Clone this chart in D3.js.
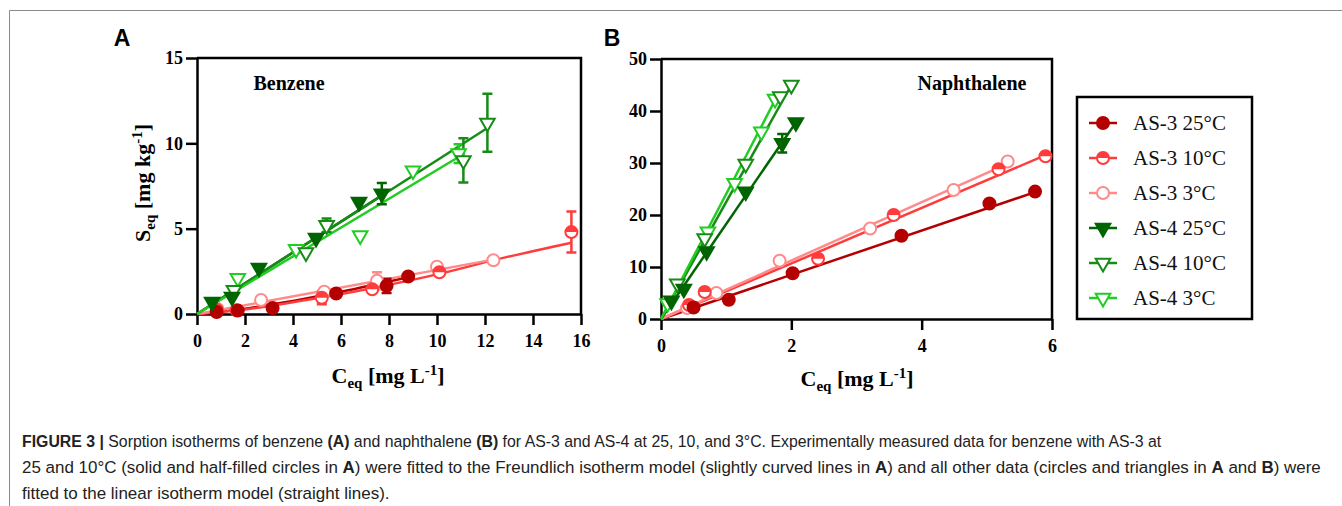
<!DOCTYPE html>
<html>
<head>
<meta charset="utf-8">
<script src="https://cdn.jsdelivr.net/npm/d3@7"></script>
<style>
  body { margin: 0; background: #fff; }
</style>
</head>
<body>
<div id="chart"></div>
<script>
// Legend labels / series order
const seriesNames = ["AS-3 25°C", "AS-3 10°C", "AS-3 3°C", "AS-4 25°C", "AS-4 10°C", "AS-4 3°C"];

// Tick values
const xTicksA = [0, 2, 4, 6, 8, 10, 12, 14, 16];
const yTicksA = [0, 5, 10, 15];
const xTicksB = [0, 2, 4, 6];
const yTicksB = [0, 10, 20, 30, 40, 50];

// Benzene (A) measured points: [Ceq, Seq, error]
const benzAS3_25 = [[0.82, 0.12], [1.7, 0.2], [3.15, 0.35], [5.8, 1.2], [7.9, 1.65, 0.42], [8.8, 2.2]];
const benzAS3_10 = [[0.82, 0.25], [1.65, 0.22], [5.2, 0.95, 0.38], [7.3, 1.45], [10.1, 2.45], [15.6, 4.8, 1.2]];
const benzAS3_3  = [[0.85, 0.3], [2.67, 0.82], [5.3, 1.3], [7.5, 1.95, 0.5], [10.0, 2.77], [12.35, 3.15]];
const benzAS4_25 = [[0.63, 0.7], [1.46, 1.0], [2.58, 2.7], [4.96, 4.45], [6.75, 6.56], [7.7, 7.05, 0.62]];
const benzAS4_10 = [[1.54, 1.4], [4.54, 3.6], [5.4, 5.2, 0.4], [11.1, 9.0, 1.3], [12.1, 11.2, 1.7]];
const benzAS4_3  = [[1.7, 2.1], [4.13, 3.8], [6.8, 4.6], [9.0, 8.4], [10.9, 9.4, 0.55]];

// Benzene fitted lines
const fitBenzAS3_25 = [[0, 0], [2, 0.31], [4, 0.77], [6, 1.3], [8.8, 2.15]];
const fitBenzAS3_10 = [[0, 0], [2, 0.27], [5, 0.92], [7.5, 1.57], [10, 2.32], [12.5, 3.2], [15.6, 4.18]];
const fitBenzAS3_3  = [[0, 0], [12.4, 3.2]];
const fitBenzAS4_25 = [[0, 0], [7.7, 6.95]];
const fitBenzAS4_10 = [[0, 0], [12.1, 10.9]];
const fitBenzAS4_3  = [[0, 0], [10.9, 9.2]];

// Naphthalene (B) measured points
const napAS3_25 = [[0.5, 2.2], [1.04, 3.7], [2.02, 8.8], [3.69, 16.0], [5.04, 22.2], [5.74, 24.5]];
const napAS3_10 = [[0.43, 2.7], [0.67, 5.2], [2.41, 11.6], [3.57, 20.0], [5.18, 28.8], [5.9, 31.3]];
const napAS3_3  = [[0.4, 2.1], [0.85, 5.0], [1.82, 11.2], [3.21, 17.4], [4.49, 24.8], [5.32, 30.3]];
const napAS4_25 = [[0.16, 3.5], [0.35, 5.8], [0.7, 13], [1.3, 24.5], [1.86, 33.8, 1.8], [2.07, 37.8]];
const napAS4_10 = [[0.25, 6.8], [0.67, 15.5], [1.3, 29.8], [1.83, 42.8], [2.0, 45.0]];
const napAS4_3  = [[0.1, 3.0], [0.72, 16.8], [1.13, 26.1], [1.54, 36.0], [1.75, 42.3]];

// Naphthalene fitted lines
const fitNapAS3_25 = [[0, 0], [5.74, 24.4]];
const fitNapAS3_10 = [[0, 0], [5.9, 31.5]];
const fitNapAS3_3  = [[0, 0], [5.32, 29.9]];
const fitNapAS4_25 = [[0, 0], [2.07, 37.8]];
const fitNapAS4_10 = [[0, 0], [2.0, 45.0]];
const fitNapAS4_3  = [[0, 0], [1.78, 42.8]];

// styling per series
const colors  = ["#b40000", "#ff3c3c", "#ff8a8a", "#006400", "#168c16", "#22cc22"];
const markers = ["circleFill", "circleHalf", "circleOpen", "triFill", "triOpen", "triOpen"];

const W = 1342, H = 506;
const serif = "'Liberation Serif', 'Times New Roman', serif";
const sans  = "'Liberation Sans', Arial, sans-serif";

const svg = d3.select("#chart").append("svg")
  .attr("width", W).attr("height", H)
  .style("display", "block");

// thin figure frame (left and top edges)
svg.append("path")
  .attr("d", `M9.5,${H} L9.5,10.5 L${W},10.5`)
  .attr("fill", "none").attr("stroke", "#8a8a8a").attr("stroke-width", 1);

// scales
const xA = d3.scaleLinear().domain([0, 16]).range([197, 581]);
const yA = d3.scaleLinear().domain([0, 15]).range([314, 58]);
const xB = d3.scaleLinear().domain([0, 6]).range([661, 1052]);
const yB = d3.scaleLinear().domain([0, 50]).range([319, 59]);

// marker drawing
function drawMarker(g, type, color, cx, cy) {
  const r = 6;
  if (type.startsWith("circle")) {
    g.append("circle")
      .attr("cx", cx).attr("cy", cy).attr("r", r)
      .attr("fill", type === "circleFill" ? color : "#fff")
      .attr("stroke", color).attr("stroke-width", 2);
    if (type === "circleHalf") {
      g.append("path")
        .attr("d", `M${cx - r},${cy} A${r},${r} 0 0 1 ${cx + r},${cy} Z`)
        .attr("fill", color);
    }
  } else {
    g.append("path")
      .attr("d", d3.symbol(d3.symbolTriangle, 92)())
      .attr("transform", `translate(${cx},${cy}) rotate(180)`)
      .attr("fill", type === "triFill" ? color : "#fff")
      .attr("stroke", color).attr("stroke-width", 2)
      .attr("stroke-linejoin", "miter");
  }
}

function drawPanel(x, y, xTicks, yTicks, pts, fits) {
  const g = svg.append("g");
  const x0 = x.range()[0], x1 = x.range()[1];
  const y0 = y.range()[0], y1 = y.range()[1];

  // top and right frame lines
  g.append("path")
    .attr("d", `M${x0},${y1} L${x1},${y1} L${x1},${y0}`)
    .attr("fill", "none").attr("stroke", "#000").attr("stroke-width", 2.5);

  const fmt = d3.format("d");
  const ax = g.append("g")
    .attr("transform", `translate(0,${y0})`)
    .call(d3.axisBottom(x).tickValues(xTicks).tickFormat(fmt).tickSize(11).tickSizeOuter(0).tickPadding(9));
  const ay = g.append("g")
    .attr("transform", `translate(${x0},0)`)
    .call(d3.axisLeft(y).tickValues(yTicks).tickFormat(fmt).tickSize(11).tickSizeOuter(0).tickPadding(3));
  [ax, ay].forEach(a => {
    a.selectAll("path, line").attr("stroke", "#000").attr("stroke-width", 2.5);
    a.selectAll("text")
      .attr("fill", "#000")
      .style("font-family", serif).style("font-weight", "bold").style("font-size", "18px");
  });

  const line = d3.line().x(d => x(d[0])).y(d => y(d[1])).curve(d3.curveMonotoneX);

  // fitted lines
  fits.forEach((f, i) => {
    g.append("path").datum(f)
      .attr("d", line)
      .attr("fill", "none")
      .attr("stroke", colors[i])
      .attr("stroke-width", 2.5);
  });

  // error bars, then markers (draw darker series last)
  const order = [2, 1, 0, 5, 4, 3];
  order.forEach(i => {
    pts[i].filter(d => d[2]).forEach(d => {
      const cx = x(d[0]);
      const ya = y(d[1] + d[2]), yb = y(d[1] - d[2]);
      g.append("path")
        .attr("d", `M${cx},${ya} L${cx},${yb} M${cx - 5},${ya} L${cx + 5},${ya} M${cx - 5},${yb} L${cx + 5},${yb}`)
        .attr("fill", "none").attr("stroke", colors[i]).attr("stroke-width", 2.5);
    });
  });
  order.forEach(i => {
    pts[i].forEach(d => drawMarker(g, markers[i], colors[i], x(d[0]), y(d[1])));
  });
  return g;
}

drawPanel(xA, yA, xTicksA, yTicksA,
  [benzAS3_25, benzAS3_10, benzAS3_3, benzAS4_25, benzAS4_10, benzAS4_3],
  [fitBenzAS3_25, fitBenzAS3_10, fitBenzAS3_3, fitBenzAS4_25, fitBenzAS4_10, fitBenzAS4_3]);

drawPanel(xB, yB, xTicksB, yTicksB,
  [napAS3_25, napAS3_10, napAS3_3, napAS4_25, napAS4_10, napAS4_3],
  [fitNapAS3_25, fitNapAS3_10, fitNapAS3_3, fitNapAS4_25, fitNapAS4_10, fitNapAS4_3]);

// panel letters and compound names
svg.append("text").attr("x", 122).attr("y", 46).attr("text-anchor", "middle")
  .style("font-family", sans).style("font-weight", "bold").style("font-size", "23px").text("A");
svg.append("text").attr("x", 612).attr("y", 46).attr("text-anchor", "middle")
  .style("font-family", sans).style("font-weight", "bold").style("font-size", "23px").text("B");
svg.append("text").attr("x", 289).attr("y", 90).attr("text-anchor", "middle")
  .style("font-family", serif).style("font-weight", "bold").style("font-size", "20px").text("Benzene");
svg.append("text").attr("x", 972).attr("y", 90).attr("text-anchor", "middle")
  .style("font-family", serif).style("font-weight", "bold").style("font-size", "20px").text("Naphthalene");

// axis titles with sub/superscripts
function axisTitle(sym, unit, tx, ty, rotate) {
  const t = svg.append("text")
    .attr("transform", `translate(${tx},${ty})` + (rotate ? " rotate(-90)" : ""))
    .attr("text-anchor", "middle")
    .style("font-family", serif).style("font-weight", "bold").style("font-size", "22px");
  t.append("tspan").text(sym);
  t.append("tspan").attr("dy", 5).style("font-size", "15px").text("eq");
  t.append("tspan").attr("dy", -5).text(` [mg ${unit}`);
  t.append("tspan").attr("dy", -8).style("font-size", "15px").text("-1");
  t.append("tspan").attr("dy", 8).text("]");
}
axisTitle("C", "L", 388, 383, false);
axisTitle("C", "L", 857, 386, false);
axisTitle("S", "kg", 150, 183, true);

// legend
const lg = svg.append("g");
lg.append("rect").attr("x", 1077).attr("y", 97).attr("width", 175).attr("height", 222)
  .attr("fill", "#fff").attr("stroke", "#000").attr("stroke-width", 2.5);
seriesNames.forEach((name, i) => {
  const cy = 123 + i * 35;
  lg.append("line").attr("x1", 1089).attr("x2", 1117).attr("y1", cy).attr("y2", cy)
    .attr("stroke", colors[i]).attr("stroke-width", 2.5);
  drawMarker(lg, markers[i], colors[i], 1103, cy);
  lg.append("text").attr("x", 1133).attr("y", cy + 7)
    .style("font-family", serif).style("font-size", "21px").attr("fill", "#111").text(name);
});

// caption: each line squeezed horizontally to the reference width
const capLines = [
  { w: 1140, parts: [["FIGURE 3 | ", true], ["Sorption isotherms of benzene ", false], ["(A)", true], [" and naphthalene ", false], ["(B)", true], [" for AS-3 and AS-4 at 25, 10, and 3°C. Experimentally measured data for benzene with AS-3 at", false]] },
  { w: 1300, parts: [["25 and 10°C (solid and half-filled circles in ", false], ["A", true], [") were fitted to the Freundlich isotherm model (slightly curved lines in ", false], ["A", true], [") and all other data (circles and triangles in ", false], ["A", true], [" and ", false], ["B", true], [") were", false]] },
  { w: 388, parts: [["fitted to the linear isotherm model (straight lines).", false]] }
];
capLines.forEach((ln, i) => {
  const t = svg.append("text")
    .attr("x", 0).attr("y", 0)
    .style("font-family", sans).style("font-size", "17px").attr("fill", "#222");
  ln.parts.forEach(p => t.append("tspan").style("font-weight", p[1] ? "bold" : "normal").text(p[0]));
  const natural = t.node().getComputedTextLength();
  const sx = Math.min(1, ln.w / natural);
  t.attr("transform", `translate(22,${447 + i * 26}) scale(${sx},1)`);
});
</script>
</body>
</html>
